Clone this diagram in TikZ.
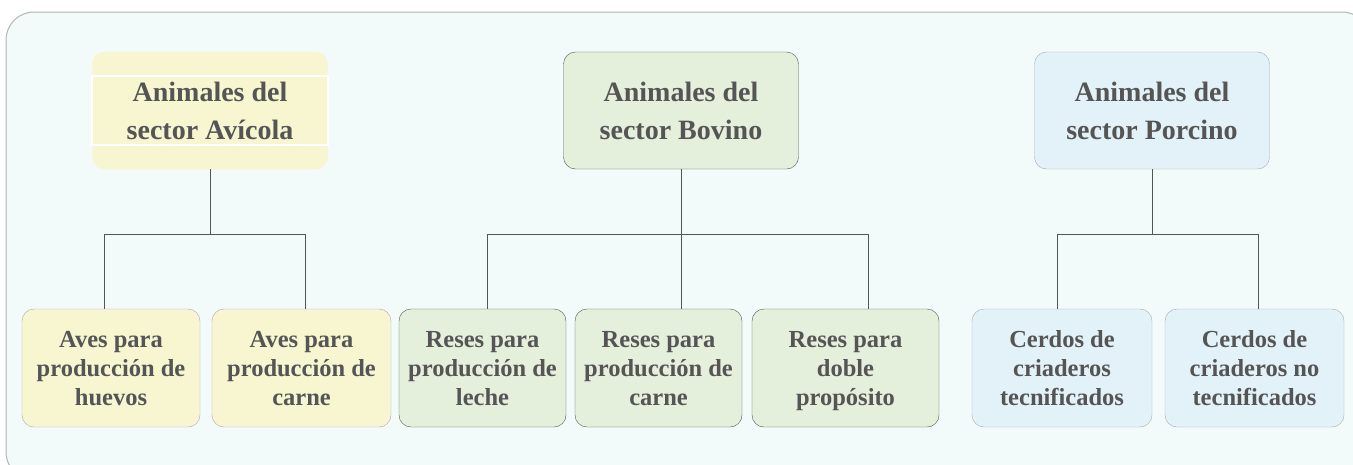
\documentclass[tikz,border=0pt]{standalone}
\usepackage{fontspec}
\setmainfont{Liberation Serif}
\usepackage{xcolor}
\definecolor{framefill}{HTML}{F2FAFA}
\definecolor{frameline}{HTML}{B4B4B4}
\definecolor{avfill}{HTML}{F7F6D1}
\definecolor{bofill}{HTML}{E4EFDC}
\definecolor{pofill}{HTML}{E3F1F9}
\definecolor{inktext}{HTML}{555555}
\definecolor{darkline}{HTML}{555555}
\definecolor{softline}{HTML}{ABABAB}

\begin{document}
\begin{tikzpicture}[x=1pt,y=-1pt,
    sector node/.style={rounded corners=12pt,draw,align=center,text=inktext,
        minimum width=235pt,minimum height=117pt,inner sep=0pt,text depth=0pt,
        font=\fontsize{28}{38}\selectfont\bfseries},
    leaf node/.style={rounded corners=12pt,draw,align=center,text=inktext,
        minimum height=118pt,inner sep=0pt,text depth=0pt,
        font=\fontsize{24.5}{29}\selectfont\bfseries},
    link/.style={draw=darkline,line width=1pt}]

    \useasboundingbox (0,0) rectangle (1353,464);
    \clip (0,0) rectangle (1353,464);
    \draw[fill=framefill,draw=frameline,line width=1pt,rounded corners=28pt] (6,12) rectangle (1370,480);

    % sectores
    \node[sector node,fill=avfill,draw=avfill] (av) at (210,110.5) {Animales del\\sector Avícola};
    \node[sector node,fill=bofill,draw=darkline] (bo) at (681,110.5) {Animales del\\sector Bovino};
    \node[sector node,fill=pofill,draw=softline] (po) at (1152,110.5) {Animales del\\sector Porcino};
    \draw[white,line width=1.5pt] (92,76) rectangle (328,145);

    % hojas
    \node[leaf node,fill=avfill,draw=softline,minimum width=178pt] (avh) at (111,368) {Aves para\\producción de\\huevos};
    \node[leaf node,fill=avfill,draw=softline,minimum width=179pt] (avc) at (301.5,368) {Aves para\\producción de\\carne};
    \node[leaf node,fill=bofill,draw=darkline,minimum width=167pt] (bol) at (482.5,368) {Reses para\\producción de\\leche};
    \node[leaf node,fill=bofill,draw=darkline,minimum width=167pt] (boc) at (658.5,368) {Reses para\\producción de\\carne};
    \node[leaf node,fill=bofill,draw=darkline,minimum width=187pt] (bod) at (845.5,368) {Reses para\\doble\\propósito};
    \node[leaf node,fill=pofill,draw=softline,minimum width=180pt] (pot) at (1062,368) {Cerdos de\\criaderos\\tecnificados};
    \node[leaf node,fill=pofill,draw=softline,minimum width=179pt] (pon) at (1254.5,368) {Cerdos de\\criaderos no\\tecnificados};

    % uniones
    \coordinate (av1) at (104,234);
    \coordinate (av2) at (305,234);
    \coordinate (bo1) at (487,234);
    \coordinate (bo2) at (681,234);
    \coordinate (bo3) at (868,234);
    \coordinate (po1) at (1057,234);
    \coordinate (po2) at (1258,234);

    \path[link]
        (av.south) -- (av.south |- av1)
        (av1) -- (av2)
        (av1) -- (av1 |- avh.north)
        (av2) -- (av2 |- avc.north)
        (bo.south) -- (bo2)
        (bo1) -- (bo3)
        (bo1) -- (bo1 |- bol.north)
        (bo2) -- (bo2 |- boc.north)
        (bo3) -- (bo3 |- bod.north)
        (po.south) -- (po.south |- po1)
        (po1) -- (po2)
        (po1) -- (po1 |- pot.north)
        (po2) -- (po2 |- pon.north)
    ;
\end{tikzpicture}
\end{document}
